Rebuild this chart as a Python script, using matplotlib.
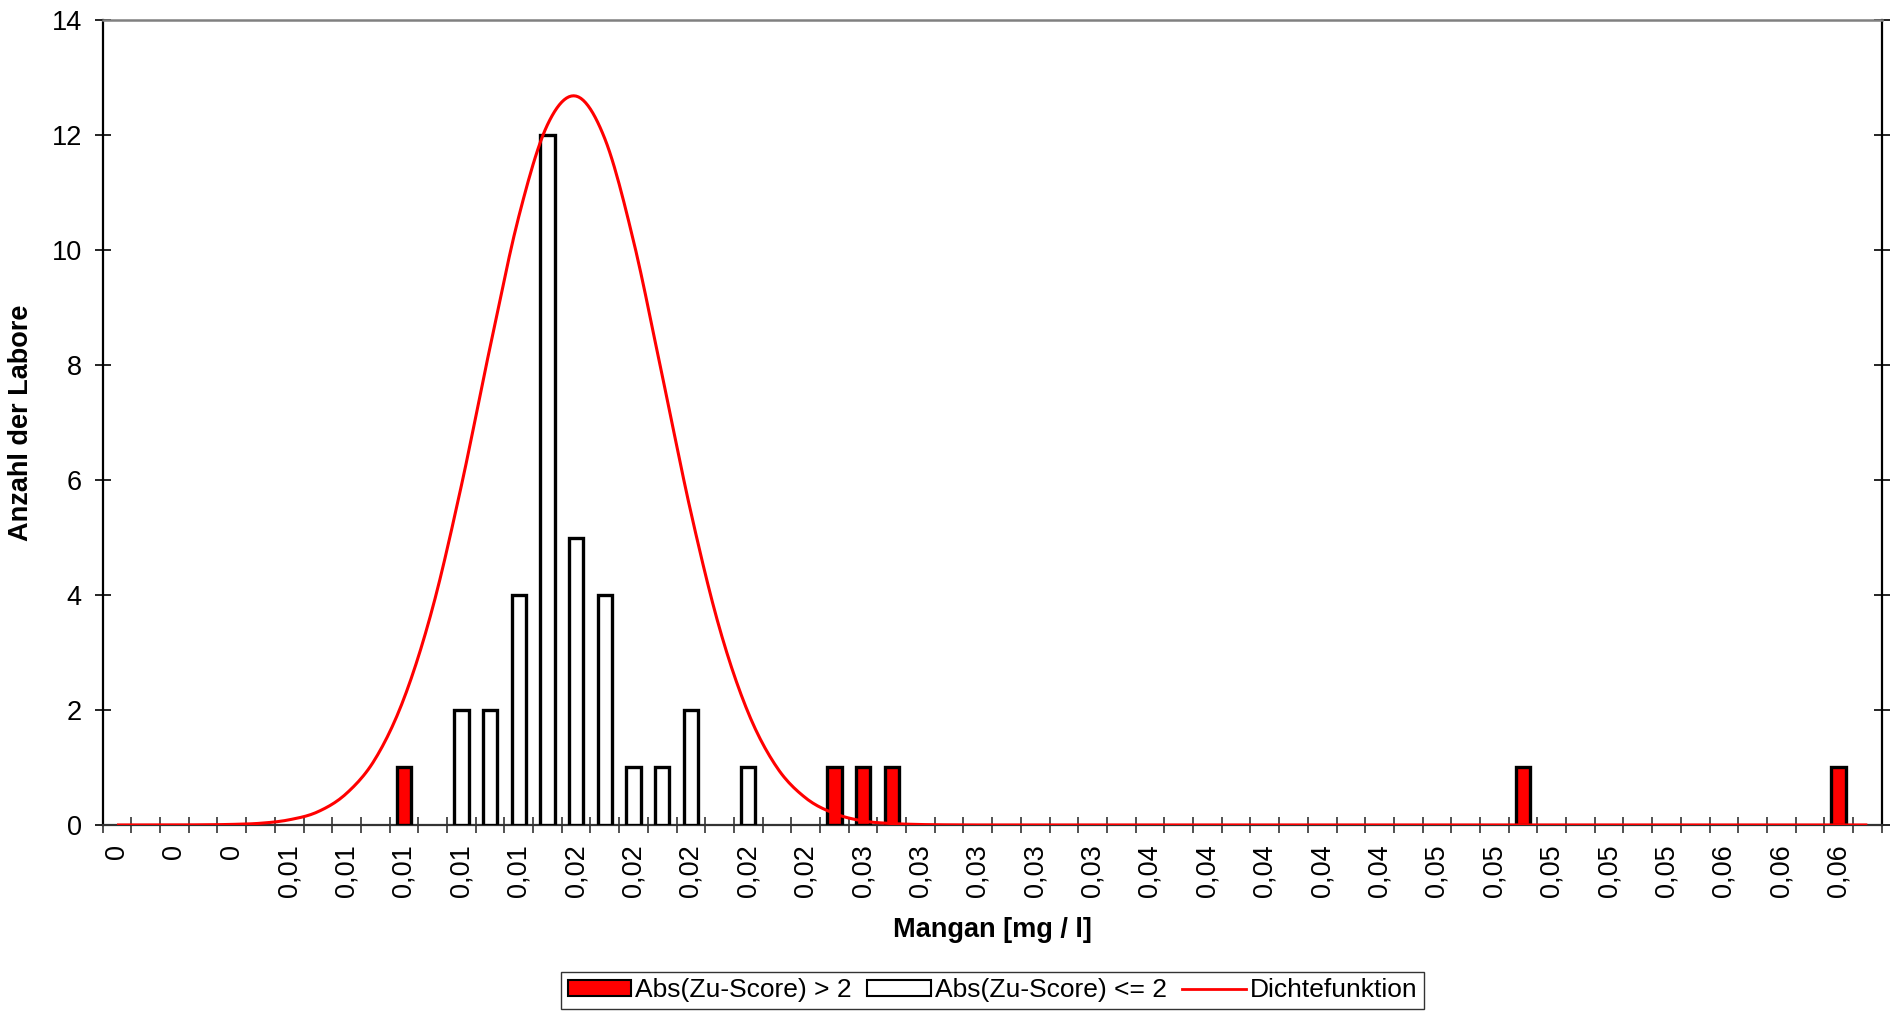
import numpy as np
import matplotlib
matplotlib.use("Agg")
import matplotlib.pyplot as plt
from matplotlib.patches import Patch
from matplotlib.lines import Line2D

plt.rcParams['font.family'] = ['Liberation Sans', 'DejaVu Sans']

# ---- data -------------------------------------------------------------
# x labels shown on every second category (62 categories in total)
tick_labels = ["0", "0", "0", "0,01", "0,01", "0,01", "0,01", "0,01",
               "0,02", "0,02", "0,02", "0,02", "0,02",
               "0,03", "0,03", "0,03", "0,03", "0,03",
               "0,04", "0,04", "0,04", "0,04", "0,04",
               "0,05", "0,05", "0,05", "0,05", "0,05",
               "0,06", "0,06", "0,06"]

# Abs(Zu-Score) > 2  (red bars), per category
counts_red = [0, 0, 0, 0, 0, 0, 0, 0, 0, 0,
              1, 0, 0, 0, 0, 0, 0, 0, 0, 0,
              0, 0, 0, 0, 0, 1, 1, 1, 0, 0,
              0, 0, 0, 0, 0, 0, 0, 0, 0, 0,
              0, 0, 0, 0, 0, 0, 0, 0, 0, 1,
              0, 0, 0, 0, 0, 0, 0, 0, 0, 0,
              1, 0]

# Abs(Zu-Score) <= 2 (white bars), per category
counts_white = [0, 0, 0, 0, 0, 0, 0, 0, 0, 0,
                0, 0, 2, 2, 4, 12, 5, 4, 1, 1,
                2, 0, 1, 0, 0, 0, 0, 0, 0, 0,
                0, 0, 0, 0, 0, 0, 0, 0, 0, 0,
                0, 0, 0, 0, 0, 0, 0, 0, 0, 0,
                0, 0, 0, 0, 0, 0, 0, 0, 0, 0,
                0, 0]

# Dichtefunktion, per category
density = [0.0, 0.0, 0.001, 0.003, 0.01, 0.03, 0.09, 0.23, 0.55, 1.15,
           2.2, 3.78, 5.9, 8.31, 10.58, 12.18, 12.68, 11.94, 10.16, 7.82,
           5.44, 3.42, 1.95, 1.0, 0.47, 0.2, 0.07, 0.025, 0.008, 0.002,
           0.0, 0.0, 0.0, 0.0, 0.0, 0.0, 0.0, 0.0, 0.0, 0.0,
           0.0, 0.0, 0.0, 0.0, 0.0, 0.0, 0.0, 0.0, 0.0, 0.0,
           0.0, 0.0, 0.0, 0.0, 0.0, 0.0, 0.0, 0.0, 0.0, 0.0,
           0.0, 0.0]

legend_labels = ["Abs(Zu-Score) > 2", "Abs(Zu-Score) <= 2", "Dichtefunktion"]
x_title = "Mangan [mg / l]"
y_title = "Anzahl der Labore"

# ---- helpers ----------------------------------------------------------
def catmull_rom(y, n=12):
    """Smooth a line through equally spaced points (like Excel's smoothed line)."""
    y = np.asarray(y, float)
    p = np.concatenate([[y[0]], y, [y[-1]]])
    xs, ys = [], []
    t = np.linspace(0, 1, n, endpoint=False)
    for i in range(len(y) - 1):
        p0, p1, p2, p3 = p[i], p[i + 1], p[i + 2], p[i + 3]
        seg = 0.5 * ((2 * p1) + (-p0 + p2) * t + (2 * p0 - 5 * p1 + 4 * p2 - p3) * t ** 2
                     + (-p0 + 3 * p1 - 3 * p2 + p3) * t ** 3)
        xs.append(i + t)
        ys.append(seg)
    xs.append([len(y) - 1])
    ys.append([y[-1]])
    return np.concatenate(xs), np.clip(np.concatenate(ys), 0, None)

# ---- figure -----------------------------------------------------------
fig = plt.figure(figsize=(18.94, 10.11), dpi=100)
ax = fig.add_axes([0.0542, 0.184, 0.9393, 0.796])

n = len(counts_red)
x = np.arange(n)
red = np.array(counts_red, float)
white = np.array(counts_white, float)

mr = red > 0
mw = white > 0
ax.bar(x[mw], white[mw], width=0.5, color='white', edgecolor='black', linewidth=2.4, zorder=3)
ax.bar(x[mr], red[mr], width=0.5, color='#FF0000', edgecolor='black', linewidth=2.4, zorder=3)

sx, sy = catmull_rom(density)
ax.plot(sx, sy, color='#FF0000', linewidth=2.2, zorder=4, solid_capstyle='butt')

ax.set_xlim(-0.5, n - 0.5)
ax.set_ylim(0, 14)

# y axis
ax.set_yticks(np.arange(0, 15, 2))
ax.tick_params(axis='y', which='major', direction='inout', length=12, width=1.2,
               labelsize=19.5, pad=9, right=True, left=True, colors='black')

# x axis: ticks at category boundaries, labels every 2nd category
ax.set_xticks(np.arange(-0.5, n, 1.0))
ax.set_xticklabels([])
ax.set_xticks(np.arange(0, n, 2)[:len(tick_labels)], minor=True)
ax.set_xticklabels(tick_labels, minor=True, rotation=90, va='top', ha='center')
ax.tick_params(axis='x', which='major', direction='inout', length=12, width=1.2,
               color='#333333')
ax.tick_params(axis='x', which='minor', length=0, labelsize=19.5, pad=14)

for s in ['left', 'right']:
    ax.spines[s].set_color('black')
    ax.spines[s].set_linewidth(1.6)
ax.spines['top'].set_color('#808080')
ax.spines['top'].set_linewidth(1.8)
ax.spines['bottom'].set_color('#333333')
ax.spines['bottom'].set_linewidth(1.6)

ax.set_xlabel(x_title, fontsize=19.5, fontweight='bold', labelpad=14)
ax.set_ylabel(y_title, fontsize=19.5, fontweight='bold')
ax.yaxis.set_label_coords(-0.0385, 0.5)

handles = [Patch(facecolor='#FF0000', edgecolor='black', linewidth=1.5),
           Patch(facecolor='white', edgecolor='black', linewidth=1.5),
           Line2D([], [], color='#FF0000', linewidth=2.0)]
leg = fig.legend(handles, legend_labels, loc='lower center', ncol=3,
                 bbox_to_anchor=(0.524, 0.002), bbox_transform=fig.transFigure,
                 fontsize=19, frameon=True, fancybox=False, edgecolor='black',
                 handlelength=2.4, handleheight=0.6, handletextpad=0.15,
                 columnspacing=0.6, borderpad=0.25, borderaxespad=0.0)
leg.get_frame().set_linewidth(1.0)

fig.savefig("out.png", dpi=100, facecolor='white')
